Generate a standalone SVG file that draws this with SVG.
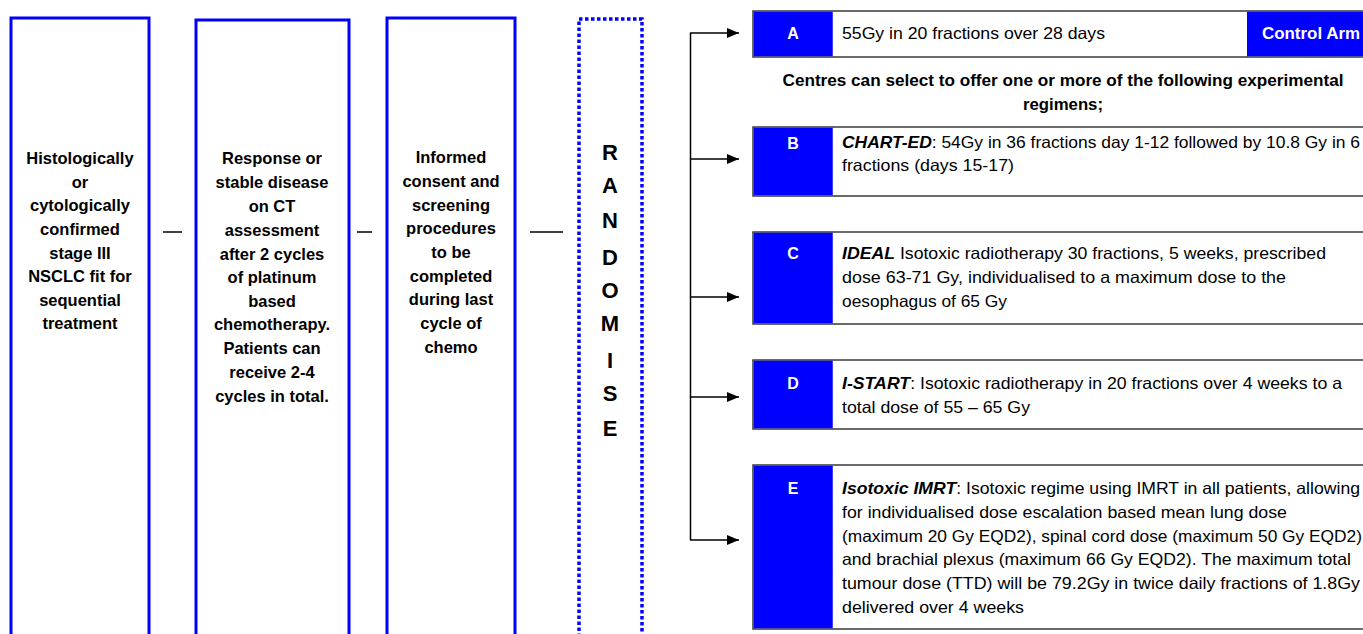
<svg xmlns="http://www.w3.org/2000/svg" width="1363" height="634" viewBox="0 0 1363 634">
<style>
.step{fill:#fff;stroke:#0000ff;stroke-width:3}
.rand{fill:none;stroke:#0000ff;stroke-width:3.5;stroke-dasharray:3.5 2.5}
.arm{fill:#fff;stroke:#3a3a3a;stroke-width:1.5}
.cell{fill:#0000ff}
.lt{font-family:"Liberation Sans",Arial,sans-serif;font-weight:bold;font-size:16.5px;fill:#000;text-anchor:middle}
.rl{font-family:"Liberation Sans",Arial,sans-serif;font-weight:bold;font-size:22px;fill:#000;text-anchor:middle}
.id{font-family:"Liberation Sans",Arial,sans-serif;font-weight:bold;font-size:16px;fill:#fff;text-anchor:middle}
.tx{font-family:"Liberation Sans",Arial,sans-serif;font-size:16.5px;fill:#000}
.bi{font-weight:bold;font-style:italic}
.ct{font-family:"Liberation Sans",Arial,sans-serif;font-weight:bold;font-size:16px;fill:#000;text-anchor:middle}
.ln{stroke:#000;stroke-width:1.5;fill:none}
</style>
<defs>
<marker id="ah" markerWidth="12" markerHeight="10" refX="12" refY="5" orient="auto" markerUnits="userSpaceOnUse">
<path d="M0,0 L12,5 L0,10 Z" fill="#000"/>
</marker>
</defs>
<rect width="1363" height="634" fill="#fff"/>

<g id="connectors">
<line class="ln" x1="163" y1="232" x2="182" y2="232"/>
<line class="ln" x1="357" y1="232" x2="372" y2="232"/>
<line class="ln" x1="530" y1="232" x2="563" y2="232"/>
<line class="ln" x1="690.5" y1="33" x2="690.5" y2="540"/>
<line class="ln" x1="690" y1="33" x2="739" y2="33" marker-end="url(#ah)"/>
<line class="ln" x1="690" y1="159" x2="739" y2="159" marker-end="url(#ah)"/>
<line class="ln" x1="690" y1="297" x2="739" y2="297" marker-end="url(#ah)"/>
<line class="ln" x1="690" y1="397" x2="739" y2="397" marker-end="url(#ah)"/>
<line class="ln" x1="690" y1="540" x2="739" y2="540" marker-end="url(#ah)"/>
</g>

<g id="eligibility">
<rect class="step" x="11" y="18" width="138" height="630"/>
<text class="lt" x="80" y="164">Histologically</text>
<text class="lt" x="80" y="188">or</text>
<text class="lt" x="80" y="211">cytologically</text>
<text class="lt" x="80" y="235">confirmed</text>
<text class="lt" x="80" y="259">stage III</text>
<text class="lt" x="80" y="282">NSCLC fit for</text>
<text class="lt" x="80" y="306">sequential</text>
<text class="lt" x="80" y="329">treatment</text>
</g>

<g id="response">
<rect class="step" x="196" y="20" width="153" height="630"/>
<text class="lt" x="272" y="164">Response or</text>
<text class="lt" x="272" y="188">stable disease</text>
<text class="lt" x="272" y="212">on CT</text>
<text class="lt" x="272" y="236">assessment</text>
<text class="lt" x="272" y="260">after 2 cycles</text>
<text class="lt" x="272" y="283">of platinum</text>
<text class="lt" x="272" y="307">based</text>
<text class="lt" x="272" y="330">chemotherapy.</text>
<text class="lt" x="272" y="354">Patients can</text>
<text class="lt" x="272" y="378">receive 2-4</text>
<text class="lt" x="272" y="402">cycles in total.</text>
</g>

<g id="consent">
<rect class="step" x="387" y="18" width="128" height="630"/>
<text class="lt" x="451" y="163">Informed</text>
<text class="lt" x="451" y="187">consent and</text>
<text class="lt" x="451" y="211">screening</text>
<text class="lt" x="451" y="234">procedures</text>
<text class="lt" x="451" y="258">to be</text>
<text class="lt" x="451" y="282">completed</text>
<text class="lt" x="451" y="305">during last</text>
<text class="lt" x="451" y="329">cycle of</text>
<text class="lt" x="451" y="353">chemo</text>
</g>

<g id="randomise">
<rect class="rand" x="579" y="19" width="63" height="630"/>
<text class="rl" x="610" y="160">R</text>
<text class="rl" x="610" y="193">A</text>
<text class="rl" x="610" y="228">N</text>
<text class="rl" x="610" y="265">D</text>
<text class="rl" x="610" y="298">O</text>
<text class="rl" x="610" y="331">M</text>
<text class="rl" x="610" y="368">I</text>
<text class="rl" x="610" y="401">S</text>
<text class="rl" x="610" y="436">E</text>
</g>

<g id="armA">
<rect class="arm" x="753" y="11" width="620" height="46"/>
<rect class="cell" x="753.75" y="11.75" width="79" height="44.5"/>
<rect class="cell" x="1247" y="11.75" width="120" height="44.5"/>
<text class="id" x="793" y="39">A</text>
<text class="tx" x="842" y="39" textLength="263" lengthAdjust="spacingAndGlyphs">55Gy in 20 fractions over 28 days</text>
<text class="id" x="1311" y="39" textLength="98" lengthAdjust="spacingAndGlyphs">Control Arm</text>
</g>

<g id="note">
<text class="ct" x="1063" y="86" textLength="561" lengthAdjust="spacingAndGlyphs">Centres can select to offer one or more of the following experimental</text>
<text class="ct" x="1063" y="110" textLength="80" lengthAdjust="spacingAndGlyphs">regimens;</text>
</g>

<g id="armB">
<rect class="arm" x="753" y="127" width="620" height="69"/>
<rect class="cell" x="753.75" y="127.75" width="79" height="67.5"/>
<text class="id" x="793" y="149">B</text>
<text class="tx" x="842" y="148" textLength="518" lengthAdjust="spacingAndGlyphs"><tspan class="bi">CHART-ED</tspan>: 54Gy in 36 fractions day 1-12 followed by 10.8 Gy in 6</text>
<text class="tx" x="842" y="171" textLength="172" lengthAdjust="spacingAndGlyphs">fractions (days 15-17)</text>
</g>

<g id="armC">
<rect class="arm" x="753" y="232" width="620" height="92"/>
<rect class="cell" x="753.75" y="232.75" width="79" height="90.5"/>
<text class="id" x="793" y="259">C</text>
<text class="tx" x="842" y="259" textLength="484" lengthAdjust="spacingAndGlyphs"><tspan class="bi">IDEAL</tspan> Isotoxic radiotherapy 30 fractions, 5 weeks, prescribed</text>
<text class="tx" x="842" y="283" textLength="444" lengthAdjust="spacingAndGlyphs">dose 63-71 Gy, individualised to a maximum dose to the</text>
<text class="tx" x="842" y="307" textLength="165" lengthAdjust="spacingAndGlyphs">oesophagus of 65 Gy</text>
</g>

<g id="armD">
<rect class="arm" x="753" y="360" width="620" height="69"/>
<rect class="cell" x="753.75" y="360.75" width="79" height="67.5"/>
<text class="id" x="793" y="389">D</text>
<text class="tx" x="842" y="389" textLength="500" lengthAdjust="spacingAndGlyphs"><tspan class="bi">I-START</tspan>: Isotoxic radiotherapy in 20 fractions over 4 weeks to a</text>
<text class="tx" x="842" y="413" textLength="188" lengthAdjust="spacingAndGlyphs">total dose of 55 – 65 Gy</text>
</g>

<g id="armE">
<rect class="arm" x="753" y="465" width="620" height="164"/>
<rect class="cell" x="753.75" y="465.75" width="79" height="162.5"/>
<text class="id" x="793" y="494">E</text>
<text class="tx" x="842" y="494" textLength="518" lengthAdjust="spacingAndGlyphs"><tspan class="bi">Isotoxic IMRT</tspan>: Isotoxic regime using IMRT in all patients, allowing</text>
<text class="tx" x="842" y="518" textLength="445" lengthAdjust="spacingAndGlyphs">for individualised dose escalation based mean lung dose</text>
<text class="tx" x="842" y="542" textLength="520" lengthAdjust="spacingAndGlyphs">(maximum 20 Gy EQD2), spinal cord dose (maximum 50 Gy EQD2)</text>
<text class="tx" x="842" y="565" textLength="509" lengthAdjust="spacingAndGlyphs">and brachial plexus (maximum 66 Gy EQD2). The maximum total</text>
<text class="tx" x="842" y="589" textLength="518" lengthAdjust="spacingAndGlyphs">tumour dose (TTD) will be 79.2Gy in twice daily fractions of 1.8Gy</text>
<text class="tx" x="842" y="613" textLength="182" lengthAdjust="spacingAndGlyphs">delivered over 4 weeks</text>
</g>
</svg>
